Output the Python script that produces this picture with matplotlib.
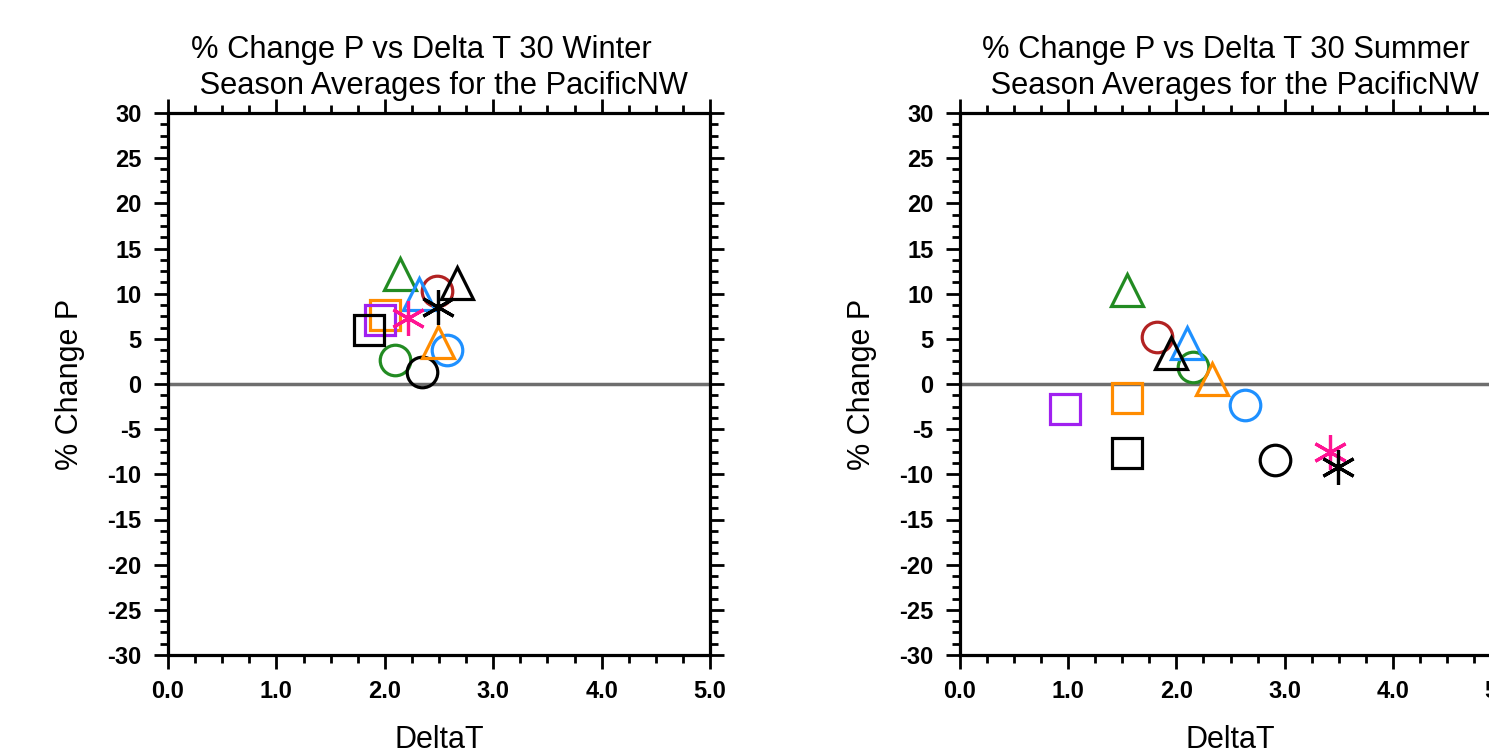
import matplotlib
matplotlib.use("Agg")
import matplotlib.pyplot as plt
from matplotlib.ticker import MultipleLocator

plt.rcParams["font.family"] = ["Liberation Sans", "DejaVu Sans"]
plt.rcParams["axes.unicode_minus"] = False

# one entry per model, same order in every list
colors = [
	"#b22222", "#228b22", "#1e90ff", "black",
	"#228b22", "#1e90ff", "#ff8c00", "black",
	"#ff8c00", "#a020f0", "black",
	"#ff1493", "black",
]
markers = [
	"o", "o", "o", "o",
	"^", "^", "^", "^",
	"s", "s", "s",
	(6, 2, 0), (6, 2, 0),
]

winter_dt = [2.48, 2.09, 2.57, 2.34, 2.14, 2.32, 2.49, 2.67, 2.00, 1.96, 1.85, 2.21, 2.49]
winter_dp = [10.3, 2.7, 3.8, 1.3, 12.2, 10.0, 4.6, 11.2, 7.6, 7.1, 6.0, 7.3, 8.5]

summer_dt = [1.82, 2.15, 2.63, 2.91, 1.54, 2.10, 2.33, 1.95, 1.54, 0.97, 1.54, 3.42, 3.49]
summer_dp = [5.2, 1.9, -2.3, -8.4, 10.4, 4.5, 0.5, 3.4, -1.6, -2.8, -7.6, -7.5, -9.2]

titles = [
	"% Change P vs Delta T 30 Winter\n Season Averages for the PacificNW",
	"% Change P vs Delta T 30 Summer\n Season Averages for the PacificNW",
]

W, H = 1489, 755
fig = plt.figure(figsize=(W / 100, H / 100), dpi=100)
ax_w = fig.add_axes([168 / W, 100 / H, 542 / W, 542 / H])
ax_s = fig.add_axes([960 / W, 100 / H, 541 / W, 542 / H])


def draw(ax, xs, ys, title):
	ax.axhline(0, color="#6e6e6e", lw=2.5, zorder=1)
	for x, y, c, m in zip(xs, ys, colors, markers):
		size = 25 if isinstance(m, tuple) else (23 if m == "^" else 22)
		ax.plot(
			x, y, linestyle="none", marker=m, markersize=size,
			markerfacecolor="none", markeredgecolor=c, markeredgewidth=2.3,
			zorder=3,
		)
	ax.set_xlim(0, 5)
	ax.set_ylim(-30, 30)
	ax.xaxis.set_major_locator(MultipleLocator(1))
	ax.xaxis.set_minor_locator(MultipleLocator(0.25))
	ax.yaxis.set_major_locator(MultipleLocator(5))
	ax.yaxis.set_minor_locator(MultipleLocator(1.25))
	ax.set_xticklabels([f"{v:.1f}" for v in ax.get_xticks()])
	ax.tick_params(which="both", direction="out", width=2.0,
		top=True, right=True, labelsize=17)
	ax.tick_params(which="major", length=10)
	ax.tick_params(which="minor", length=5.5)
	ax.tick_params(axis="x", pad=8)
	ax.tick_params(axis="y", pad=9)
	for lab in ax.get_xticklabels() + ax.get_yticklabels():
		lab.set_fontweight("bold")
	for sp in ax.spines.values():
		sp.set_linewidth(2.3)
	ax.text(0.5, -0.157, "DeltaT", transform=ax.transAxes,
		ha="center", va="center", fontsize=22)
	ax.text(-0.181, 0.5, "% Change P", transform=ax.transAxes,
		ha="center", va="center", rotation=90, fontsize=22)
	ax.text(0.5, 1.023, title, transform=ax.transAxes, ha="center",
		va="bottom", multialignment="left", fontsize=22.2, linespacing=1.22)


draw(ax_w, winter_dt, winter_dp, titles[0])
draw(ax_s, summer_dt, summer_dp, titles[1])

fig.savefig("out.png", dpi=100)
